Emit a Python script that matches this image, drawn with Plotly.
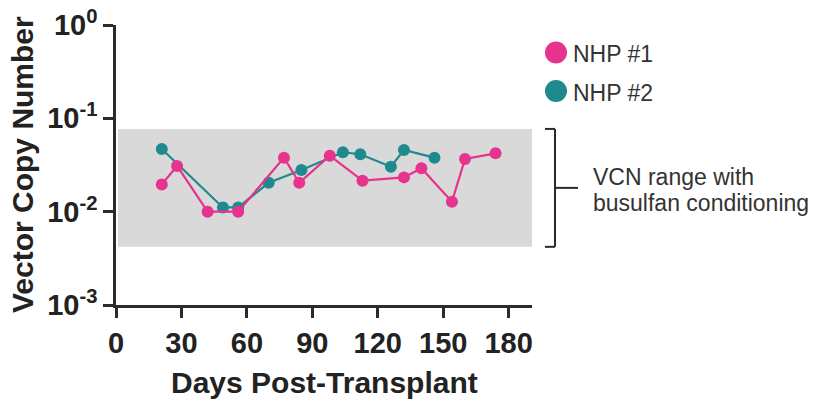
import math
import plotly.graph_objects as go

# ---- data ----
nhp1_days = [21, 28, 42, 56, 77, 84, 98, 113, 132, 140, 154, 160, 174]
nhp1_vcn = [0.0196, 0.0309, 0.0100, 0.0100, 0.0379, 0.0204, 0.0398, 0.0215, 0.0233, 0.0292, 0.0128, 0.0367, 0.0422]
nhp2_days = [21, 49, 56, 70, 85, 104, 112, 126, 132, 146]
nhp2_vcn = [0.0469, 0.0111, 0.0111, 0.0204, 0.0279, 0.0433, 0.0412, 0.0303, 0.0458, 0.0379]
series_names = ["NHP #1", "NHP #2"]
band_low, band_high = 0.0042, 0.077
band_label_lines = ["VCN range with", "busulfan conditioning"]
x_tick_vals = [0, 30, 60, 90, 120, 150, 180]
y_tick_vals = [0.001, 0.01, 0.1, 1]
y_tick_text = ["10<sup>-3</sup>", "10<sup>-2</sup>", "10<sup>-1</sup>", "10<sup>0</sup>"]

PINK = "#E5338E"
TEAL = "#1F8A8E"
AXC = "#2b2b2b"
FONT = "Arial, Liberation Sans, Helvetica, sans-serif"

OFF = 8  # page body margin offset
W, H = 816 - OFF, 401 - OFF
# plot area in window pixels
PL, PT, PR, PB = 116, 25, 532, 305
L, T = PL - OFF, PT - OFF
R, B = W - (PR - OFF), H - (PB - OFF)
PW = PR - PL
PH = PB - PT
YMIN, YMAX = -3, 0
XMAX = 190.7


def ydom(v):
    return (math.log10(v) - YMIN) / (YMAX - YMIN)


def px_x(px):
    return (px - PL) / PW


def px_y(py):
    return (PB - py) / PH


fig = go.Figure()
fig.add_trace(go.Scatter(x=nhp2_days, y=nhp2_vcn, mode="lines+markers", name=series_names[1],
                         line=dict(color=TEAL, width=2.2), marker=dict(color=TEAL, size=12),
                         showlegend=False))
fig.add_trace(go.Scatter(x=nhp1_days, y=nhp1_vcn, mode="lines+markers", name=series_names[0],
                         line=dict(color=PINK, width=2.2), marker=dict(color=PINK, size=12),
                         showlegend=False))

shapes = []
# shaded VCN band
shapes.append(dict(type="rect", xref="paper", yref="y domain", x0=px_x(118), x1=1,
                   y0=ydom(band_low), y1=ydom(band_high), fillcolor="#D9D9D9",
                   line=dict(width=0), layer="below"))
# bracket
bx = px_x(555)
cap = px_x(545)
yt, yb = ydom(band_high), ydom(band_low)
ym = (yt + yb) / 2
bl = dict(color=AXC, width=2)
shapes.append(dict(type="line", xref="paper", yref="y domain", x0=bx, x1=bx, y0=yb, y1=yt, line=bl))
shapes.append(dict(type="line", xref="paper", yref="y domain", x0=cap, x1=bx, y0=yt, y1=yt, line=bl))
shapes.append(dict(type="line", xref="paper", yref="y domain", x0=cap, x1=bx, y0=yb, y1=yb, line=bl))
shapes.append(dict(type="line", xref="paper", yref="y domain", x0=bx, x1=px_x(578), y0=ym, y1=ym, line=bl))

# manual legend markers
legend_y = [52.5, 91]
legend_cols = [PINK, TEAL]
for yy, col in zip(legend_y, legend_cols):
    shapes.append(dict(type="circle", xref="paper", yref="paper", xsizemode="pixel", ysizemode="pixel",
                       xanchor=px_x(556), yanchor=px_y(yy), x0=-11, x1=11, y0=-11, y1=11,
                       fillcolor=col, line=dict(width=0)))

annotations = []
for yy, name in zip(legend_y, series_names):
    annotations.append(dict(xref="paper", yref="paper", x=px_x(571), y=px_y(yy + 2), xanchor="left",
                            yanchor="middle", text=name, showarrow=False,
                            font=dict(family=FONT, size=23, color="#333333")))
for yy, line in zip([177, 203], band_label_lines):
    annotations.append(dict(xref="paper", yref="paper", x=px_x(591), y=px_y(yy), xanchor="left",
                            yanchor="middle", align="left", text=line, showarrow=False,
                            font=dict(family=FONT, size=23, color="#333333")))
# axis titles
annotations.append(dict(xref="paper", yref="paper", x=0, y=0.5, xshift=-94, xanchor="center",
                        yanchor="middle", textangle=-90, text="<b>Vector Copy Number</b>",
                        showarrow=False, font=dict(family=FONT, size=30, color="#222222")))
annotations.append(dict(xref="paper", yref="paper", x=0.5, y=0, yshift=-77, xanchor="center",
                        yanchor="middle", text="<b>Days Post-Transplant</b>",
                        showarrow=False, font=dict(family=FONT, size=30, color="#222222")))

fig.update_layout(
    width=W, height=H,
    margin=dict(l=L, r=R, t=T, b=B, pad=0, autoexpand=False),
    paper_bgcolor="white", plot_bgcolor="white",
    shapes=shapes, annotations=annotations,
    xaxis=dict(range=[0, XMAX], tickvals=x_tick_vals, ticktext=[f"<b>{v}</b>" for v in x_tick_vals],
               showgrid=False, zeroline=False, showline=True, linecolor=AXC, linewidth=2.5,
               ticks="outside", ticklen=10, tickwidth=2.5, tickcolor=AXC, automargin=False,
               ticklabeloverflow="allow",
               tickfont=dict(family=FONT, size=29, color="#222222")),
    yaxis=dict(type="log", range=[YMIN, YMAX], tickvals=y_tick_vals,
               ticktext=[f"<b>{t}</b>" for t in y_tick_text],
               showgrid=False, zeroline=False, showline=True, linecolor=AXC, linewidth=2.5,
               ticks="outside", ticklen=10, tickwidth=2.5, tickcolor=AXC, automargin=False,
               ticklabeloverflow="allow",
               tickfont=dict(family=FONT, size=29, color="#222222")),
)

fig.write_html("out.html")
